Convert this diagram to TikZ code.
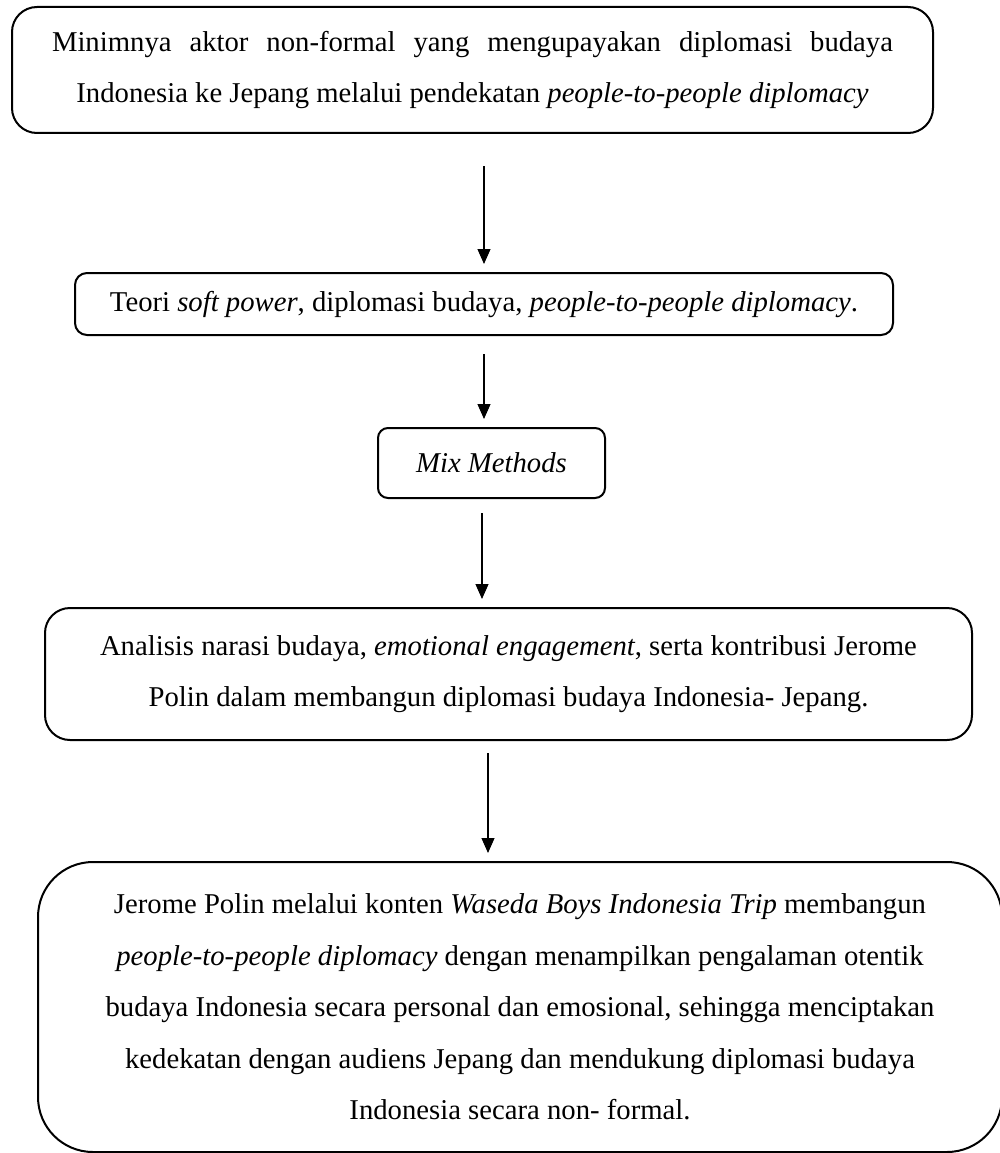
\documentclass[tikz,border=0pt]{standalone}
\usepackage{fontspec}
\setmainfont{Liberation Serif}
\usetikzlibrary{arrows.meta}

\begin{document}
\begin{tikzpicture}[x=1pt,y=-1pt,-]
    \tikzstyle{box}=[rectangle,draw=black,line width=2pt,align=center,inner sep=0pt,font=\fontsize{28.7pt}{51.5pt}\selectfont]
    \tikzstyle{arrow}=[-{Triangle[width=13pt,length=15pt]},line width=1.1pt]
    \useasboundingbox (0,0) rectangle (999,1153);

    \node[box,rounded corners=25pt,minimum width=921pt,minimum height=126pt] (B-1) at (472.5,70)
        {\makebox[841pt][s]{Minimnya aktor non-formal yang mengupayakan diplomasi budaya}\\
         Indonesia ke Jepang melalui pendekatan \textit{people-to-people diplomacy}};
    \node[box,rounded corners=12pt,minimum width=818pt,minimum height=62pt] (B-2) at (484,304)
        {Teori \textit{soft power}, diplomasi budaya, \textit{people-to-people diplomacy}.};
    \node[box,rounded corners=10pt,minimum width=227pt,minimum height=70pt] (B-3) at (491.5,463)
        {\textit{Mix Methods}};
    \node[box,rounded corners=25pt,minimum width=927pt,minimum height=132pt] (B-4) at (508.5,674)
        {Analisis narasi budaya, \textit{emotional engagement}, serta kontribusi Jerome\\
         Polin dalam membangun diplomasi budaya Indonesia- Jepang.};
    \node[box,rounded corners=55pt,minimum width=964pt,minimum height=290pt] (B-5) at (520,1007)
        {Jerome Polin melalui konten \textit{Waseda Boys Indonesia Trip} membangun\\
         \textit{people-to-people diplomacy} dengan menampilkan pengalaman otentik\\
         budaya Indonesia secara personal dan emosional, sehingga menciptakan\\
         kedekatan dengan audiens Jepang dan mendukung diplomasi budaya\\
         Indonesia secara non- formal.};

    \foreach \from/\to/\x/\gap in {1/2/484/32, 2/3/484/18, 3/4/482/14, 4/5/488/12}
        \draw[arrow,shorten <=\gap pt,shorten >=8pt] (B-\from.south -| \x,0) -- (B-\to.north -| \x,0);
\end{tikzpicture}
\end{document}
